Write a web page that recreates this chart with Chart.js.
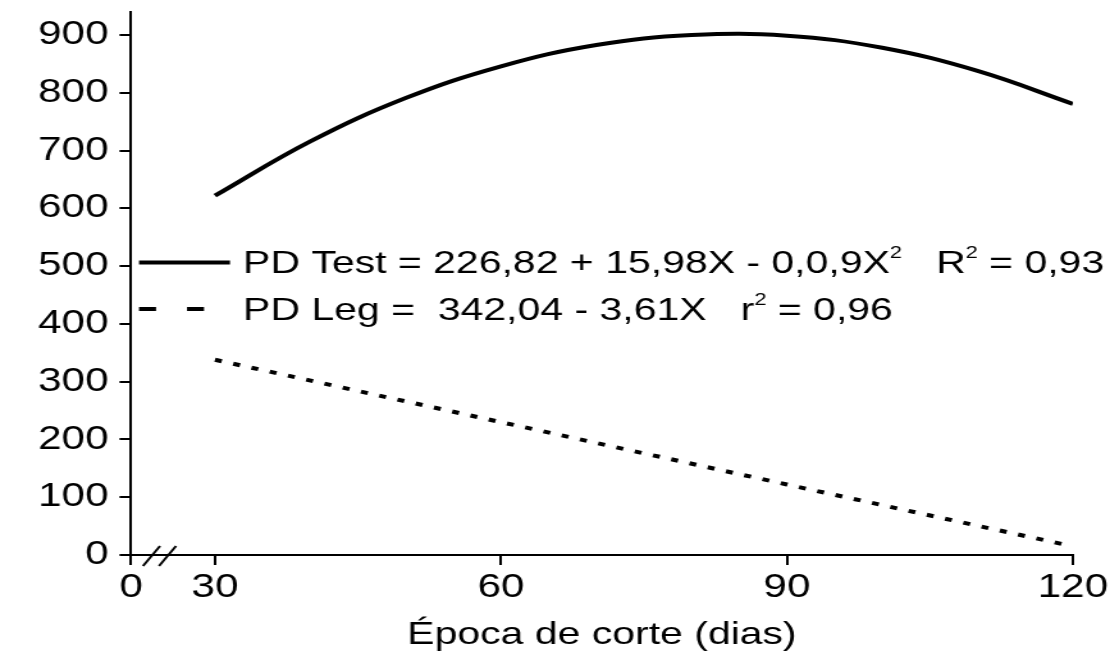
<!DOCTYPE html>
<html>
<head>
<meta charset="utf-8">
<script src="https://cdn.jsdelivr.net/npm/chart.js@4.4.1/dist/chart.umd.min.js"></script>
<style>
  html, body { margin: 0; padding: 0; background: #fff; }
  #pdChart { display: block; }
</style>
</head>
<body>
<!-- the original figure is stretched sideways, so draw narrow and widen it with CSS -->
<canvas id="pdChart" width="867" height="655" style="width:1110px;height:655px"></canvas>
<script>
// data
const testDays = [30, 40, 50, 60, 70, 80, 90, 100, 110, 120];
const testPD   = [622, 716, 791, 846, 883, 900, 899, 878, 838, 781];
const legDays  = [30, 60, 90, 120];
const legPD    = [338, 230, 122, 15];
const xTicks   = [30, 60, 90, 120];
const yTicks   = [0, 100, 200, 300, 400, 500, 600, 700, 800, 900];
const xBreak   = 21.19;   // left end of the broken axis, labelled "0"
const xBreakLabel = '0';

const FONT = "'Liberation Sans', Arial, sans-serif";
const SX = 1110 / 867;    // horizontal stretch of the picture

function pts(xs, ys) { return xs.map((x, i) => ({ x: x, y: ys[i] })); }

// legend + axis-break marks, drawn over the chart
const extras = {
  id: 'extras',
  afterDraw(chart) {
    const ctx = chart.ctx, a = chart.chartArea;
    ctx.save();
    ctx.strokeStyle = '#000';
    ctx.fillStyle = '#000';

    // "//" break on the x axis
    ctx.lineWidth = 2;
    [[143, 160], [159, 176]].forEach(([x0, x1]) => {
      ctx.beginPath();
      ctx.moveTo(x0 / SX, a.bottom + 11);
      ctx.lineTo(x1 / SX, a.bottom - 9);
      ctx.stroke();
    });

    // legend
    const rows = [
      { y: 262.5, base: 273, dash: [], runs: [['PD Test = 226,82 + 15,98X - 0,0,9X'], ['2', 1], ['   R'], ['2', 1], [' = 0,93']] },
      { y: 309, base: 320, dash: [13.3, 24.2], runs: [['PD Leg =  342,04 - 3,61X'], ['   r'], ['2', 1], [' = 0,96']] }
    ];
    rows.forEach(r => {
      ctx.lineWidth = 4;
      ctx.setLineDash(r.dash);
      ctx.beginPath();
      ctx.moveTo(139 / SX, r.y);
      ctx.lineTo((r.dash.length ? 207 : 230) / SX, r.y);
      ctx.stroke();
      ctx.setLineDash([]);
      let x = 243 / SX;
      ctx.textBaseline = 'alphabetic';
      ctx.textAlign = 'left';
      r.runs.forEach(([t, sup]) => {
        ctx.font = sup ? '17px ' + FONT : '32px ' + FONT;
        ctx.fillText(t, x, sup ? r.base - 15 : r.base);
        x += ctx.measureText(t).width;
      });
    });
    ctx.restore();
  }
};

new Chart(document.getElementById('pdChart'), {
  type: 'line',
  data: {
    datasets: [
      {
        label: 'PD Test',
        data: pts(testDays, testPD),
        borderColor: '#000', borderWidth: 4,
        pointRadius: 0, tension: 0.4
      },
      {
        label: 'PD Leg',
        data: pts(legDays, legPD),
        borderColor: '#000', borderWidth: 4,
        borderDash: [5.5, 9.3], borderCapStyle: 'butt',
        pointRadius: 0
      }
    ]
  },
  options: {
    responsive: false,
    animation: false,
    devicePixelRatio: 1,
    layout: { padding: { left: 0, right: 29, top: 12, bottom: 0 } },
    plugins: { legend: { display: false }, tooltip: { enabled: false } },
    scales: {
      x: {
        type: 'linear', min: xBreak, max: 120,
        afterBuildTicks: s => { s.ticks = [xBreak].concat(xTicks).map(v => ({ value: v })); },
        afterFit: s => { s.height = 100; s.paddingLeft = 0; s.paddingRight = 0; },
        grid: { drawOnChartArea: false, drawTicks: true, tickLength: 10, color: '#000', lineWidth: 2 },
        border: { display: true, color: '#000', width: 2 },
        ticks: {
          autoSkip: false, maxRotation: 0, padding: 3, color: '#000',
          font: { family: FONT, size: 33 },
          callback: v => (v === xBreak ? xBreakLabel : String(v))
        },
        title: {
          display: true, text: 'Época de corte (dias)', color: '#000',
          font: { family: FONT, size: 32 }, padding: { top: 0, bottom: 1 }
        }
      },
      y: {
        min: 0, max: 940,
        afterBuildTicks: s => { s.ticks = yTicks.map(v => ({ value: v })); },
        afterFit: s => { s.width = 131 / SX; s.paddingTop = 0; s.paddingBottom = 0; },
        grid: { drawOnChartArea: false, drawTicks: true, tickLength: 9, color: '#000', lineWidth: 2 },
        border: { display: true, color: '#000', width: 2 },
        ticks: { padding: 8.5, color: '#000', font: { family: FONT, size: 33 } }
      }
    }
  },
  plugins: [extras]
});
</script>
</body>
</html>
